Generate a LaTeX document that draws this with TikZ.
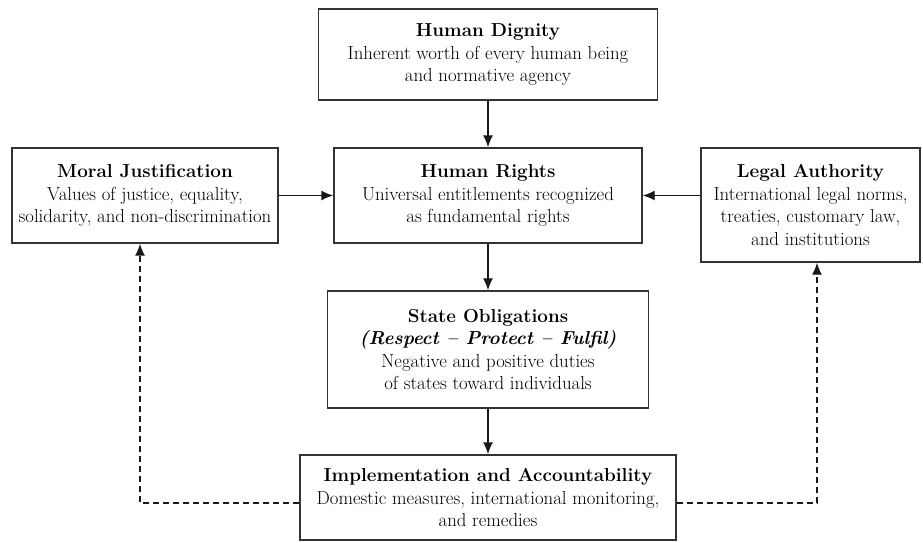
\documentclass[tikz,border=0pt]{standalone}
\usepackage{tikz}
\usetikzlibrary{arrows.meta}

\begin{document}
\begin{tikzpicture}[x=1pt,y=-1pt,
    box/.style={draw=black!80, line width=1.4pt, align=center, inner sep=0pt,
      font=\fontsize{18.8}{22.5}\selectfont},
    link/.style={-{Latex[length=12pt,width=10pt]}, line width=1.4pt, black!90},
    back/.style={link, dash pattern=on 6pt off 4pt}]
  \useasboundingbox (0,0) rectangle (923,542);
  % boxes
  \node[box, minimum width=339pt, minimum height=91pt] (HumanDignity) at (488,54.5)
    {\textbf{Human Dignity}\\Inherent worth of every human being\\and normative agency};
  \node[box, minimum width=308pt, minimum height=95pt] (HumanRights) at (488,195.5)
    {\textbf{Human Rights}\\Universal entitlements recognized\\as fundamental rights};
  \node[box, minimum width=266pt, minimum height=95pt] (MoralJustification) at (145,195.5)
    {\textbf{Moral Justification}\\Values of justice, equality,\\solidarity, and non-discrimination};
  \node[box, minimum width=219pt, minimum height=114pt] (LegalAuthority) at (810.5,205)
    {\textbf{Legal Authority}\\International legal norms,\\treaties, customary law,\\and institutions};
  \node[box, minimum width=321pt, minimum height=117pt] (StateObligations) at (488,349.5)
    {\textbf{State Obligations}\\\textbf{\textit{(Respect -- Protect -- Fulfil)}}\\Negative and positive duties\\of states toward individuals};
  \node[box, minimum width=376pt, minimum height=85pt] (Implementation) at (488,497.5)
    {\textbf{Implementation and Accountability}\\Domestic measures, international monitoring,\\and remedies};
  % solid links
  \draw[link] (HumanDignity.south) -- (HumanRights.north);
  \draw[link] (MoralJustification.east) -- (HumanRights.west);
  \draw[link] (LegalAuthority.west |- HumanRights.east) -- (HumanRights.east);
  \draw[link] (HumanRights.south) -- (StateObligations.north);
  \draw[link] (StateObligations.south) -- (Implementation.north);
  % feedback loops
  \coordinate (LeftTurn) at (140,503);
  \coordinate (RightTurn) at (817,503);
  \draw[back] (Implementation.west |- LeftTurn) -- (LeftTurn) -- (LeftTurn |- MoralJustification.south);
  \draw[back] (Implementation.east |- RightTurn) -- (RightTurn) -- (RightTurn |- LegalAuthority.south);
\end{tikzpicture}
\end{document}
